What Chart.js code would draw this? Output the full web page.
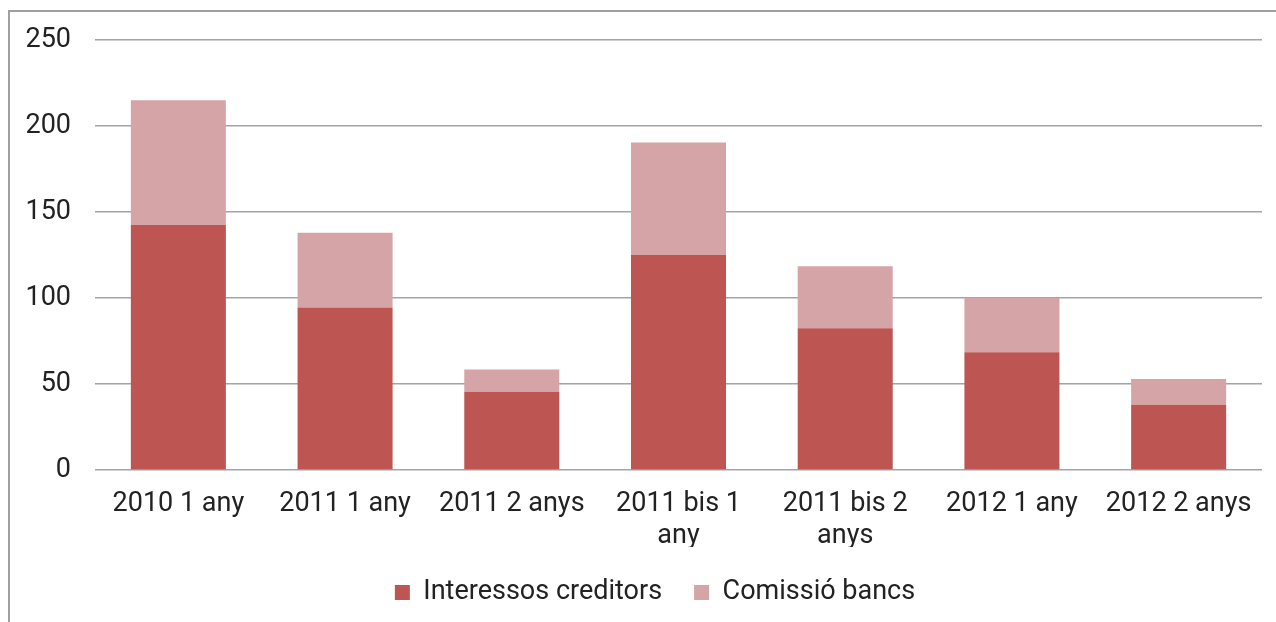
<!DOCTYPE html>
<html>
<head>
<meta charset="utf-8">
<script src="https://cdn.jsdelivr.net/npm/chart.js@4"></script>
<style>
	html, body { margin: 0; padding: 0; background: #fff; }
	#wrap { position: relative; width: 1276px; height: 622px; overflow: hidden; }
	#frame { position: absolute; left: 8px; top: 10px; width: 1300px; height: 640px; border: 2px solid #a0a0a0; box-sizing: border-box; }
	#box { position: absolute; left: 0; top: 0; width: 1276px; height: 622px; }
</style>
</head>
<body>
<div id="wrap">
	<div id="frame"></div>
	<div id="box"><canvas id="myChart"></canvas></div>
</div>
<script>
var categorias = [
	"2010 1 any",
	"2011 1 any",
	"2011 2 anys",
	["2011 bis 1", "any"],
	["2011 bis 2", "anys"],
	"2012 1 any",
	"2012 2 anys"
];
var interessos = [142.5, 94.5, 45.5, 125, 82.5, 68.5, 38];
var comissio = [72.5, 43.5, 13, 65.5, 36, 31.5, 15];
var ticksY = [0, 50, 100, 150, 200, 250];

var fuente = { family: "Roboto", size: 27 };

// la leyenda del original esta algo desplazada a la derecha
var moverLeyenda = {
	id: 'moverLeyenda',
	afterLayout: function(chart) {
		chart.legend.left += 24;
		chart.legend.right += 24;
	}
};

var ctx = document.getElementById("myChart");
var myChart = new Chart(ctx, {
	type: 'bar',
	data: {
		labels: categorias,
		datasets: [
		{
			label: "Interessos creditors",
			data: interessos,
			backgroundColor: "#BD5652",
			categoryPercentage: 1,
			barPercentage: 0.57
		},
		{
			label: "Comissió bancs",
			data: comissio,
			backgroundColor: "#D5A4A6",
			categoryPercentage: 1,
			barPercentage: 0.57
		}]
	},
	plugins: [moverLeyenda],
	options: {
		responsive: true,
		maintainAspectRatio: false,
		animation: false,
		layout: {
			padding: { top: 28, right: 14, bottom: 6, left: 0 }
		},
		plugins: {
			legend: {
				position: 'bottom',
				labels: {
					boxWidth: 15,
					boxHeight: 15,
					padding: 32,
					color: "#222",
					font: fuente
				}
			},
			tooltip: { enabled: false }
		},
		scales: {
			x: {
				stacked: true,
				grid: { display: false, drawTicks: false },
				border: { display: false },
				afterFit: function(axis) {
					axis.height = 77;
				},
				ticks: {
					color: "#222",
					font: fuente,
					padding: 18,
					maxRotation: 0,
					autoSkip: false
				}
			},
			y: {
				stacked: true,
				min: ticksY[0],
				max: ticksY[ticksY.length - 1],
				grid: {
					color: "#a3a3a8",
					lineWidth: 1.5,
					drawTicks: false
				},
				border: { display: false },
				afterBuildTicks: function(axis) {
					axis.ticks = ticksY.map(function(v) { return { value: v }; });
				},
				afterFit: function(axis) {
					axis.width = 95;
				},
				ticks: {
					color: "#222",
					font: fuente,
					padding: 24
				}
			}
		}
	}
});
</script>
</body>
</html>
